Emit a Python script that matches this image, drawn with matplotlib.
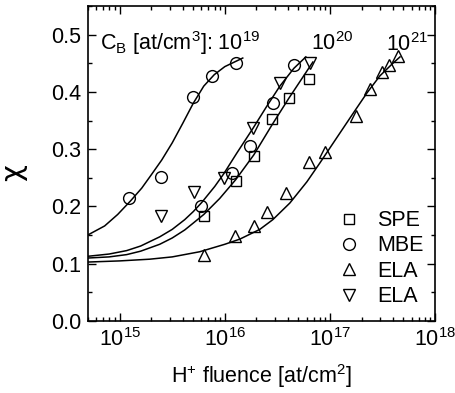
import numpy as np
import matplotlib
matplotlib.use("Agg")
from matplotlib import pyplot as plt
from matplotlib.ticker import LogLocator, MultipleLocator, NullFormatter

plt.rcParams['font.family'] = ['Liberation Sans', 'DejaVu Sans']
plt.rcParams['mathtext.fontset'] = 'custom'
plt.rcParams['mathtext.rm'] = 'Liberation Sans'
plt.rcParams['mathtext.it'] = 'Liberation Sans:italic'

# donnees (fluence en at/cm2, chi)
spe_x = [6.3e15, 1.27e16, 1.89e16, 2.8e16, 4.07e16, 6.3e16]
spe_y = [0.183, 0.244, 0.288, 0.353, 0.389, 0.422]

mbe_x = [1.24e15, 2.5e15, 4.95e15, 7.5e15, 1.27e16,
         5.9e15, 1.17e16, 1.73e16, 2.86e16, 4.54e16]
mbe_y = [0.215, 0.251, 0.391, 0.428, 0.450,
         0.201, 0.258, 0.305, 0.380, 0.447]

ela_up_x = [6.3e15, 1.24e16, 1.89e16, 2.51e16, 3.81e16, 6.3e16,
            8.95e16, 1.77e17, 2.4e17, 3.13e17, 3.65e17, 4.45e17]
ela_up_y = [0.115, 0.148, 0.166, 0.190, 0.223, 0.277,
            0.295, 0.358, 0.405, 0.435, 0.447, 0.462]

ela_dn_x = [2.5e15, 5.07e15, 9.8e15, 1.85e16, 3.34e16, 6.46e16]
ela_dn_y = [0.183, 0.225, 0.250, 0.337, 0.415, 0.450]

# courbes d'ajustement (exposant de la fluence, chi)
c19_lx = [14.695, 14.857, 14.981, 15.105, 15.21, 15.3, 15.4, 15.5, 15.6, 15.7, 15.8, 15.9, 16.0, 16.171]
c19_y = [0.150, 0.166, 0.186, 0.210, 0.232, 0.255, 0.281, 0.311, 0.345, 0.380, 0.410, 0.430, 0.444, 0.459]

c20a_lx = [14.695, 14.9, 15.067, 15.2, 15.381, 15.5, 15.619, 15.7, 15.781, 15.905, 15.99,
           16.114, 16.267, 16.4, 16.524, 16.657, 16.771]
c20a_y = [0.113, 0.117, 0.123, 0.131, 0.147, 0.160, 0.177, 0.191, 0.207, 0.235, 0.257,
          0.293, 0.336, 0.375, 0.410, 0.441, 0.461]

c20b_lx = [14.695, 14.9, 15.067, 15.2, 15.381, 15.5, 15.619, 15.7, 15.8, 15.952,
           16.105, 16.276, 16.448, 16.61, 16.733, 16.838]
c20b_y = [0.110, 0.112, 0.116, 0.122, 0.134, 0.145, 0.159, 0.171, 0.186, 0.214,
          0.247, 0.290, 0.342, 0.389, 0.423, 0.452]

c21_lx = [14.695, 15.0, 15.286, 15.5, 15.762, 16.0, 16.143, 16.333, 16.457, 16.619,
          16.781, 16.905, 17.029, 17.219, 17.352, 17.476, 17.6, 17.667]
c21_y = [0.103, 0.105, 0.108, 0.112, 0.121, 0.134, 0.143, 0.160, 0.177, 0.206,
         0.243, 0.276, 0.310, 0.362, 0.398, 0.428, 0.450, 0.461]

fig = plt.figure(figsize=(4.56, 3.93), dpi=100)
ax = fig.add_axes([0.193, 0.183, 0.761, 0.802])

for lx, y in [(c19_lx, c19_y), (c20a_lx, c20a_y), (c20b_lx, c20b_y), (c21_lx, c21_y)]:
    ax.plot(10 ** np.array(lx), y, color="black", linewidth=1.1)

style = dict(linestyle="none", markerfacecolor="none", markeredgecolor="black", markeredgewidth=1.0)
ax.plot(spe_x, spe_y, marker="s", markersize=7, label="SPE", **style)
ax.plot(mbe_x, mbe_y, marker="o", markersize=8.5, label="MBE", **style)
ax.plot(ela_up_x, ela_up_y, marker="^", markersize=9, label="ELA", **style)
ax.plot(ela_dn_x, ela_dn_y, marker="v", markersize=9, label="ELA", **style)

ax.set_xscale("log")
ax.set_xlim(5e14, 1e18)
ax.set_ylim(0, 0.55)
ax.yaxis.set_minor_locator(MultipleLocator(0.05))
ax.xaxis.set_major_locator(LogLocator(base=10, numticks=10))
ax.xaxis.set_minor_locator(LogLocator(base=10, subs=np.arange(2, 10), numticks=10))
ax.xaxis.set_minor_formatter(NullFormatter())
ax.set_yticks([0.0, 0.1, 0.2, 0.3, 0.4, 0.5])
ax.set_yticklabels(["0.0", "0.1", "0.2", "0.3", "0.4", "0.5"])
ax.tick_params(which="both", direction="in", top=True, right=True, labelsize=15.5, width=1.0)
ax.tick_params(which="major", length=6)
ax.tick_params(which="minor", length=3)
ax.tick_params(axis="x", pad=5)
ax.tick_params(axis="y", pad=5)
for s in ax.spines.values():
    s.set_linewidth(1.2)

ax.set_xlabel("H$^{+}$ fluence [at/cm$^{2}$]", fontsize=15.5, labelpad=8)
ax.set_ylabel("χ", fontsize=21, family=["DejaVu Sans"])
ax.yaxis.set_label_coords(-0.175, 0.47)

ax.text(0.035, 0.86, "C$_\\mathrm{B}$ [at/cm$^{3}$]: 10$^{19}$", transform=ax.transAxes,
        fontsize=15.5, va="baseline")
ax.text(0.643, 0.86, "10$^{20}$", transform=ax.transAxes, fontsize=15.5, va="baseline")
ax.text(0.86, 0.857, "10$^{21}$", transform=ax.transAxes, fontsize=15.5, va="baseline")

ax.legend(loc="upper left", bbox_to_anchor=(0.722, 0.352), frameon=False, fontsize=15.5,
          handletextpad=0.8, labelspacing=0.2, handlelength=1.0, borderpad=0, borderaxespad=0)

fig.savefig("out.png", dpi=100)
